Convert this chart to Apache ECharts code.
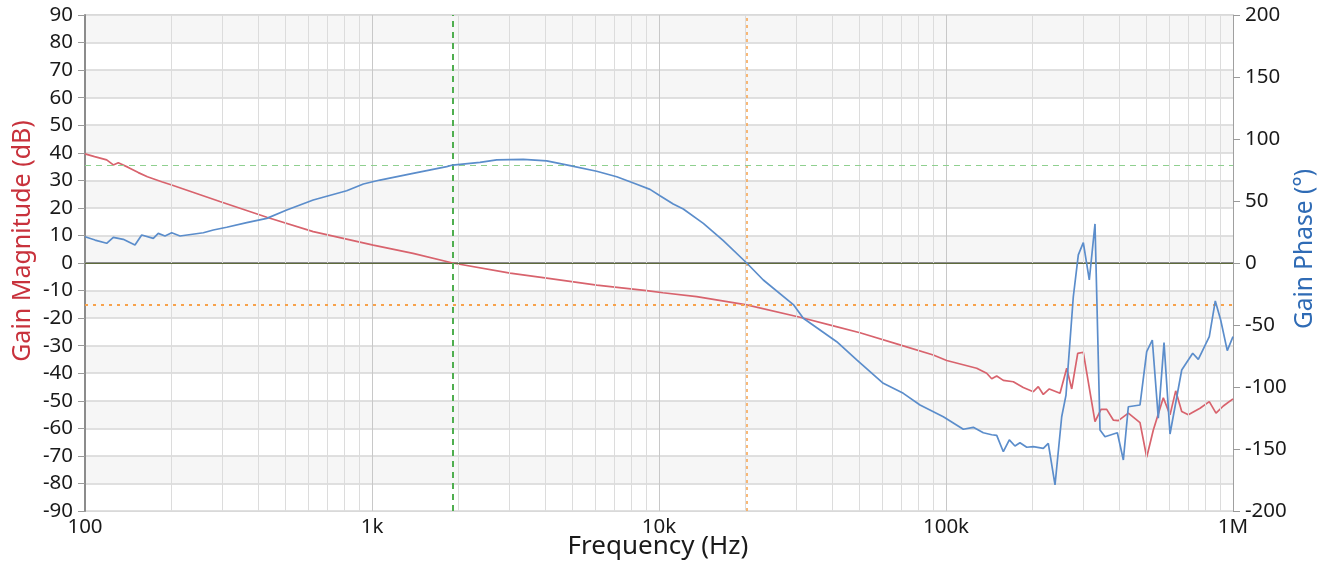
<!DOCTYPE html>
<html>
<head>
<meta charset="utf-8">
<script src="https://cdn.jsdelivr.net/npm/echarts@6/dist/echarts.min.js"></script>
<style>
  html, body { margin: 0; padding: 0; background: #ffffff; }
  #chart { width: 1330px; height: 565px; }
</style>
</head>
<body>
<div id="chart"></div>
<script>
// Loop-gain Bode plot: magnitude (dB, left axis) and phase (deg, right axis)

// Magnitude samples
const magFreq = [100, 108, 119, 125.5, 130.6, 141.5, 153.4, 165, 185, 200.5, 295, 430, 624, 1010, 1390, 1910,
  3026, 4062, 6066, 9060, 10320, 13530, 20210, 30990, 40490, 50150, 69130, 90300, 100560, 127900, 138600,
  144300, 150200, 158400, 171600, 185900, 201500, 209700, 218300, 229100, 249600, 263400, 274200, 287700,
  300900, 330500, 346800, 363000, 382700, 398600, 431800, 474200, 500400, 527700, 571700, 603300, 631500,
  662700, 698800, 767400, 826800, 872500, 925100, 1000000];
const magDb = [39.6, 38.6, 37.4, 35.6, 36.4, 34.7, 32.8, 31.3, 29.5, 28.3, 22.3, 16.6, 11.4, 6.5, 3.5, 0,
  -3.7, -5.5, -8.0, -10.0, -10.8, -12.2, -15.2, -19.7, -22.8, -25.3, -29.7, -33.4, -35.4, -38.2, -40.0,
  -42.0, -41.0, -42.6, -43.1, -45.2, -46.7, -44.9, -47.7, -45.7, -47.3, -38.2, -45.7, -32.8,
  -32.4, -57.6, -53.1, -53.1, -57.0, -57.2, -54.5, -57.9, -70.5, -60.6, -48.9, -55.1, -46.4,
  -53.9, -55.1, -52.7, -50.3, -54.5, -51.9, -49.3];

// Phase samples
const phaseFreq = [100, 108.4, 119, 125.5, 135.9, 149.3, 157.6, 173, 180, 190, 200.5, 214.3, 258.4, 280, 311.7,
  366, 430, 504.5, 624, 816, 933, 1066, 1390, 1821, 1910, 2378, 2720, 3367, 4062, 4897, 6066, 7124, 8361,
  9303, 10080, 11210, 12150, 14270, 16750, 20210, 23090, 29380, 31830, 41610, 48860, 60460, 71000, 81180,
  97860, 114900, 124500, 134900, 144300, 150200, 158400, 166200, 173900, 181000, 191100, 201500, 218300,
  227200, 239800, 253000, 261900, 277700, 289100, 300900, 315700, 330500, 344100, 358100, 395400, 414900,
  431800, 474200, 500400, 523400, 549200, 575000, 603300, 662700, 723800, 757000, 826800, 867600, 905900,
  955100, 1000000];
const phaseDeg = [21.2, 18.5, 15.9, 20.7, 19.1, 14.5, 22.6, 19.9, 23.9, 21.8, 24.4, 21.8, 24.4, 26.6, 28.8,
  32.5, 36.0, 42.7, 50.8, 58.3, 63.7, 66.9, 72.3, 77.7, 79.0, 81.2, 83.1, 83.6, 82.3, 78.5, 74.0, 69.6, 63.5,
  59.4, 54.3, 47.6, 43.5, 32.0, 18.0, 0, -13.7, -33.5, -44.6, -63.5, -78.2, -97.0, -105.1, -114.5,
  -124.0, -134.1, -132.5, -136.9, -138.5, -139.0, -152.2, -142.7, -147.6, -144.9, -148.6, -148.1, -149.5,
  -145.4, -179.0, -124.0, -106.5, -27.2, 6.5, 16.4, -13.7, 31.5, -134.7, -140.1, -136.9, -158.9,
  -115.9, -114.5, -71.5, -62.1, -125.2, -64.2, -137.9, -86.3, -72.8, -77.7, -59.4, -30.6, -46.0,
  -70.7, -59.4];

// Crossover / margin markers
const crossoverFreq = 1910;     // 0 dB crossing
const phaseAtCrossover = 79;    // phase margin level
const phaseCrossFreq = 20210;   // 0 deg crossing
const gainMarginDb = -15.2;     // magnitude at the phase crossing

// Axis ticks
const xTickValues = [100, 1000, 10000, 100000, 1000000];
const xTickText = ['100', '1k', '10k', '100k', '1M'];

// Axis titles
const titleMag = 'Gain Magnitude (dB)';
const titlePhase = 'Gain Phase (°)';
const titleFreq = 'Frequency (Hz)';

// Minor vertical grid lines (2..9 per decade)
const minorGrid = [];
for (let d = 100; d < 1000000; d *= 10) {
  for (let k = 2; k <= 9; k++) minorGrid.push({ xAxis: d * k });
}

const FONT = 'Noto Sans';
const zip = (a, b) => a.map((v, i) => [v, b[i]]);

const chart = echarts.init(document.getElementById('chart'), null, { renderer: 'canvas' });
chart.setOption({
  animation: false,
  backgroundColor: '#ffffff',
  textStyle: { fontFamily: FONT },
  grid: {
    left: 85, right: 97, top: 15, bottom: 54,
    show: true, borderColor: '#c4c4c4', borderWidth: 1, backgroundColor: 'transparent'
  },
  graphic: [
    {
      type: 'text', x: 23, y: 241, rotation: Math.PI / 2, silent: true,
      style: { text: titleMag, fontFamily: FONT, fontSize: 25, fill: '#c8323c', align: 'center', verticalAlign: 'middle' }
    },
    {
      type: 'text', x: 1305, y: 249, rotation: Math.PI / 2, silent: true,
      style: { text: titlePhase, fontFamily: FONT, fontSize: 24.5, fill: '#2f6bb5', align: 'center', verticalAlign: 'middle' }
    },
    {
      type: 'text', x: 658, y: 547, silent: true,
      style: { text: titleFreq, fontFamily: FONT, fontSize: 26, fill: '#1a1a1a', align: 'center', verticalAlign: 'middle' }
    }
  ],
  xAxis: {
    type: 'log', logBase: 10, min: 100, max: 1000000,
    axisLine: { show: true, lineStyle: { color: '#8c8c8c', width: 2 } },
    axisTick: { show: false },
    axisLabel: {
      fontFamily: FONT, fontSize: 20.5, color: '#1a1a1a', margin: 6,
      formatter: v => { const i = xTickValues.indexOf(Math.round(v)); return i >= 0 ? xTickText[i] : ''; }
    },
    splitLine: { show: true, lineStyle: { color: '#c8c8c8', width: 1 } }
  },
  yAxis: [
    {
      type: 'value', min: -90, max: 90, interval: 10, position: 'left',
      axisLine: { show: true, lineStyle: { color: '#8c8c8c', width: 2 } },
      axisTick: { show: true, length: 7, lineStyle: { color: '#9a9a9a' } },
      axisLabel: { fontFamily: FONT, fontSize: 20.5, color: '#1a1a1a', margin: 12 },
      splitLine: { show: true, lineStyle: { color: '#d6d6d6', width: 1.5 } },
      splitArea: { show: true, areaStyle: { color: ['#ffffff', '#f6f6f6'] } }
    },
    {
      type: 'value', min: -200, max: 200, interval: 50, position: 'right',
      axisLine: { show: true, lineStyle: { color: '#a0a0a0', width: 1 } },
      axisTick: { show: true, length: 7, lineStyle: { color: '#9a9a9a' } },
      axisLabel: { fontFamily: FONT, fontSize: 20.5, color: '#1a1a1a', margin: 12 },
      splitLine: { show: false }
    }
  ],
  series: [
    {
      // minor frequency grid
      type: 'line', data: [], z: 1, silent: true,
      markLine: {
        silent: true, symbol: 'none', label: { show: false },
        lineStyle: { color: '#dcdcdc', width: 1, type: 'solid' },
        data: minorGrid
      }
    },
    {
      // margin markers
      type: 'line', data: [], z: 2, silent: true,
      markLine: {
        silent: true, symbol: 'none', label: { show: false },
        data: [
          { yAxis: 0, lineStyle: { color: '#5e6b3c', width: 1.2, type: 'solid' } },
          { yAxis: gainMarginDb, lineStyle: { color: '#f7a24c', width: 2, type: [3, 5] } },
          { xAxis: crossoverFreq, lineStyle: { color: '#4fae4f', width: 2, type: [6, 5] } },
          { xAxis: phaseCrossFreq, lineStyle: { color: '#f7a24c', width: 1.5, type: [3, 4] } }
        ]
      }
    },
    {
      type: 'line', yAxisIndex: 1, data: [], z: 2, silent: true,
      markLine: {
        silent: true, symbol: 'none', label: { show: false },
        data: [
          { yAxis: phaseAtCrossover, lineStyle: { color: '#8fd08f', width: 1, type: [6, 5] } }
        ]
      }
    },
    {
      name: 'Gain Magnitude', type: 'line', z: 4,
      data: zip(magFreq, magDb), showSymbol: false, symbol: 'none',
      lineStyle: { color: '#d8636d', width: 1.7 }
    },
    {
      name: 'Gain Phase', type: 'line', yAxisIndex: 1, z: 5,
      data: zip(phaseFreq, phaseDeg), showSymbol: false, symbol: 'none',
      lineStyle: { color: '#5b8dcb', width: 1.7 }
    }
  ]
});
</script>
</body>
</html>
